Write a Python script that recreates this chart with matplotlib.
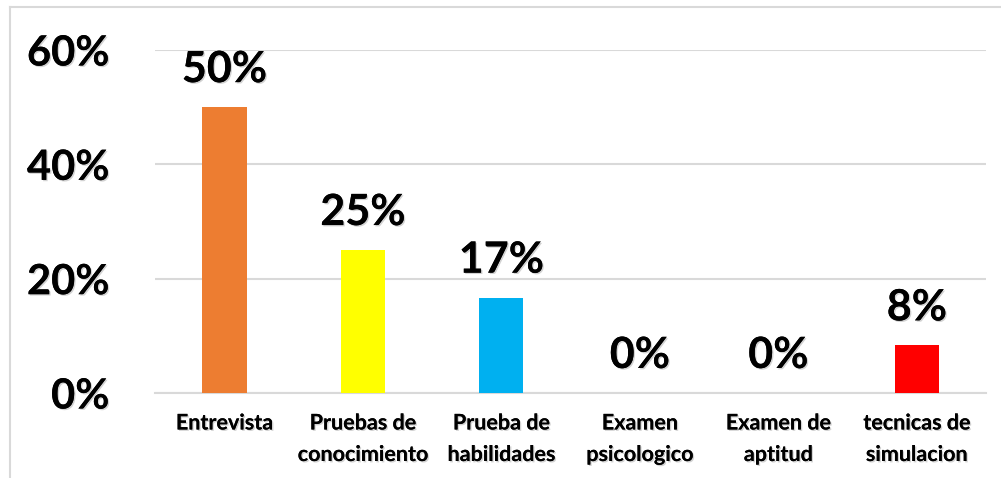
import matplotlib
matplotlib.use("Agg")
import matplotlib.pyplot as plt
import matplotlib.patheffects as pe
import matplotlib.transforms as mtransforms
from matplotlib.lines import Line2D

categories = ["Entrevista", "Pruebas de\nconocimiento", "Prueba de\nhabilidades",
              "Examen\npsicologico", "Examen de\naptitud", "tecnicas de\nsimulacion"]
values = [50.0, 25.0, 16.67, 0.0, 0.0, 8.33]
value_labels = ["50%", "25%", "17%", "0%", "0%", "8%"]
colors = ["#ED7D31", "#FFFF00", "#00B0F0", "#A5A5A5", "#4472C4", "#FF0000"]
yticks = [0, 20, 40, 60]
ytick_labels = ["0%", "20%", "40%", "60%"]

plt.rcParams['font.family'] = ['Lato', 'DejaVu Sans']
fig = plt.figure(figsize=(10.01, 4.78), dpi=100)
ax = fig.add_axes([0.155, 0.1778, 0.83, 0.7176])

shadow = [pe.withSimplePatchShadow(offset=(1, -1), shadow_rgbFace='gray', alpha=0.35), pe.Normal()]

x = range(len(categories))
ax.bar(x, values, width=0.32, color=colors, zorder=3)
ax.set_xlim(-0.5, len(categories) - 0.5)
ax.set_ylim(0, 60)
ax.set_yticks(yticks)
ax.set_yticklabels(ytick_labels, fontsize=30, fontweight='bold')
ax.set_xticks(list(x))
ax.set_xticklabels(categories, fontsize=15.5, fontweight='bold', linespacing=1.62)
for t in ax.get_yticklabels() + ax.get_xticklabels():
    t.set_path_effects(shadow)
shift_up = mtransforms.ScaledTranslation(0, 3 / 100, fig.dpi_scale_trans)
for t in ax.get_yticklabels():
    t.set_transform(t.get_transform() + shift_up)
ax.tick_params(axis='both', length=0)
ax.tick_params(axis='y', pad=33)
ax.tick_params(axis='x', pad=14)
ax.yaxis.grid(True, color='#D9D9D9', linewidth=1.5, zorder=0)
for s in ['top', 'right', 'left']:
    ax.spines[s].set_visible(False)
ax.spines['bottom'].set_color('#D9D9D9')
ax.spines['bottom'].set_linewidth(1.5)

for i, (v, lab) in enumerate(zip(values, value_labels)):
    ax.annotate(lab, (i, v), xytext=(0, 13), textcoords='offset points',
                ha='center', va='bottom', fontsize=31, fontweight='bold',
                path_effects=shadow)

# outer frame lines (left and top)
fig.add_artist(Line2D([0.0095, 0.0095], [0.0, 0.985], transform=fig.transFigure, color='#D9D9D9', linewidth=1.5))
fig.add_artist(Line2D([0.0095, 1.0], [0.985, 0.985], transform=fig.transFigure, color='#D9D9D9', linewidth=1.5))

fig.savefig("out.png", dpi=100)
